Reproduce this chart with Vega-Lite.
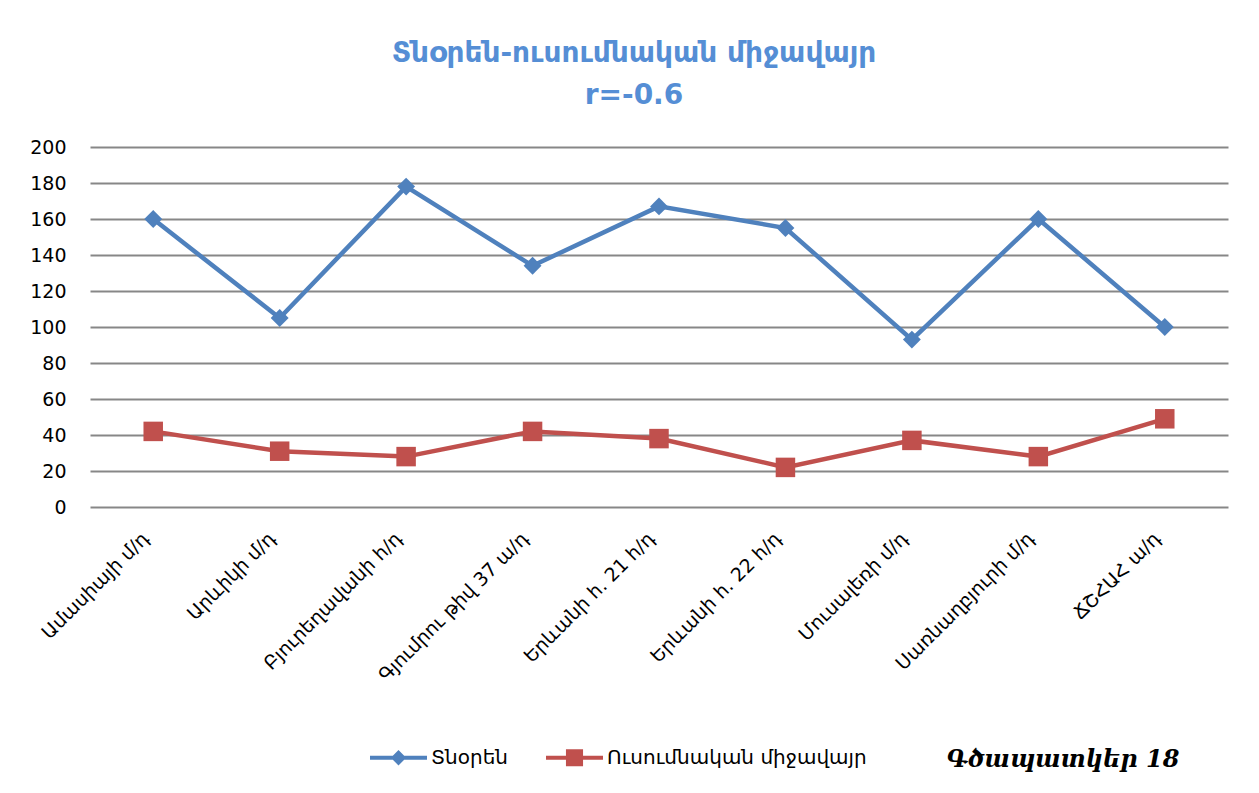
{
  "$schema": "https://vega.github.io/schema/vega-lite/v6.json",
  "autosize": {"type": "none"},
  "width": 1138,
  "height": 360,
  "padding": {"left": 90, "top": 147, "right": 31, "bottom": 286},
  "background": "white",
  "config": {"view": {"stroke": null}},
  "title": {
    "text": ["Տնօրեն-ուսումնական միջավայր", "r=-0.6"],
    "anchor": "middle",
    "dx": -25,
    "offset": 28,
    "font": "DejaVu Sans",
    "fontSize": 28,
    "fontWeight": "bold",
    "color": "#558ED5",
    "lineHeight": 42
  },
  "data": {
    "values": [
      {"school": "Ամասիայի մ/դ", "series": "Տնօրեն", "value": 160},
      {"school": "Արևիկի մ/դ", "series": "Տնօրեն", "value": 105},
      {"school": "Բյուրեղավանի հ/դ", "series": "Տնօրեն", "value": 178},
      {"school": "Գյումրու թիվ 37 ա/դ", "series": "Տնօրեն", "value": 134},
      {"school": "Երևանի հ. 21 հ/դ", "series": "Տնօրեն", "value": 167},
      {"school": "Երևանի հ. 22 հ/դ", "series": "Տնօրեն", "value": 155},
      {"school": "Մուսալեռի մ/դ", "series": "Տնօրեն", "value": 93},
      {"school": "Սառնաղբյուրի մ/դ", "series": "Տնօրեն", "value": 160},
      {"school": "ՃՇՀԱՀ ա/դ", "series": "Տնօրեն", "value": 100},
      {"school": "Ամասիայի մ/դ", "series": "Ուսումնական միջավայր", "value": 42},
      {"school": "Արևիկի մ/դ", "series": "Ուսումնական միջավայր", "value": 31},
      {"school": "Բյուրեղավանի հ/դ", "series": "Ուսումնական միջավայր", "value": 28},
      {"school": "Գյումրու թիվ 37 ա/դ", "series": "Ուսումնական միջավայր", "value": 42},
      {"school": "Երևանի հ. 21 հ/դ", "series": "Ուսումնական միջավայր", "value": 38},
      {"school": "Երևանի հ. 22 հ/դ", "series": "Ուսումնական միջավայր", "value": 22},
      {"school": "Մուսալեռի մ/դ", "series": "Ուսումնական միջավայր", "value": 37},
      {"school": "Սառնաղբյուրի մ/դ", "series": "Ուսումնական միջավայր", "value": 28},
      {"school": "ՃՇՀԱՀ ա/դ", "series": "Ուսումնական միջավայր", "value": 49}
    ]
  },
  "encoding": {
    "x": {
      "field": "school",
      "type": "nominal",
      "sort": null,
      "scale": {"type": "point", "padding": 0.5},
      "axis": {
        "title": "Գծապատկեր 18",
        "titleFont": "DejaVu Serif",
        "titleFontStyle": "italic",
        "titleFontWeight": "bold",
        "titleFontSize": 24,
        "titleColor": "black",
        "titleX": 1089,
        "titleY": 252,
        "titleAlign": "right",
        "titleBaseline": "middle",
        "labelAngle": -45,
        "labelAlign": "right",
        "labelBaseline": "middle",
        "labelFont": "DejaVu Sans",
        "labelFontSize": 19,
        "labelColor": "black",
        "labelPadding": 28,
        "labelOffset": -8,
        "labelLimit": 400,
        "domain": false,
        "ticks": false,
        "grid": false
      }
    },
    "y": {
      "field": "value",
      "type": "quantitative",
      "scale": {"domain": [0, 200], "nice": false},
      "axis": {
        "title": null,
        "values": [0, 20, 40, 60, 80, 100, 120, 140, 160, 180, 200],
        "labelFont": "DejaVu Sans",
        "labelFontSize": 19,
        "labelColor": "black",
        "labelPadding": 24,
        "domain": false,
        "ticks": false,
        "grid": true,
        "gridColor": "#878787",
        "gridWidth": 2
      }
    },
    "color": {
      "field": "series",
      "type": "nominal",
      "sort": null,
      "scale": {"domain": ["Տնօրեն", "Ուսումնական միջավայր"], "range": ["#4F81BD", "#C0504D"]},
      "legend": {
        "title": null,
        "orient": "none",
        "direction": "horizontal",
        "legendX": 280,
        "legendY": 582,
        "symbolSize": 3249,
        "symbolStrokeWidth": 0,
        "symbolOpacity": 1,
        "labelFont": "DejaVu Sans",
        "labelFontSize": 20,
        "labelColor": "black",
        "labelOffset": 4,
        "labelLimit": 500,
        "columnPadding": 38,
        "encode": {
          "symbols": {
            "update": {
              "shape": {"signal": "datum.value == 'Տնօրեն' ? 'M-1,-0.07L-0.2,-0.07L0,-0.27L0.2,-0.07L1,-0.07L1,0.07L0.2,0.07L0,0.27L-0.2,0.07L-1,0.07Z' : 'M-1,-0.07L-0.3,-0.07L-0.3,-0.3L0.3,-0.3L0.3,-0.07L1,-0.07L1,0.07L0.3,0.07L0.3,0.3L-0.3,0.3L-0.3,0.07L-1,0.07Z'"}
            }
          }
        }
      }
    }
  },
  "layer": [
    {
      "mark": {"type": "line", "strokeWidth": 4.5}
    },
    {
      "transform": [{"filter": "datum.series == 'Տնօրեն'"}],
      "mark": {"type": "point", "filled": true, "opacity": 1, "shape": "diamond", "size": 320}
    },
    {
      "transform": [{"filter": "datum.series == 'Ուսումնական միջավայր'"}],
      "mark": {"type": "point", "filled": true, "opacity": 1, "shape": "square", "size": 380}
    }
  ]
}
